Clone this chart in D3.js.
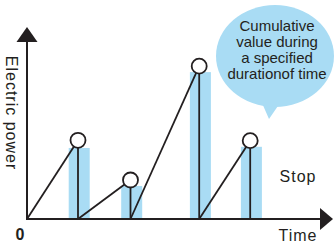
<!DOCTYPE html>
<html>
<head>
<meta charset="utf-8">
<script src="https://cdn.jsdelivr.net/npm/d3@7"></script>
<style>
  html, body { margin: 0; padding: 0; background: #fff; }
  svg { display: block; }
</style>
</head>
<body>
<div id="chart"></div>
<script>
// peaks of the cumulative value, one per measuring period
var peakTimes = [17, 34.5, 57.4, 74.4];
var peakValues = [41, 20.3, 79.6, 40.8];
// held value shown as the blue band behind each drop line
var barValues = [37, 17.2, 76.5, 37.6];
var bubbleLines = ["Cumulative", "value during", "a specified", "durationof time"];

const width = 334, height = 246;
const ink = "#231f20", blue = "#a9dcf4";
const font = "'Liberation Sans', Arial, Helvetica, sans-serif";

var svg = d3.select("#chart")
    .append("svg")
    .attr("width", width)
    .attr("height", height);

// set the ranges
var x = d3.scaleLinear().domain([0, 100]).range([27, 327]);
var y = d3.scaleLinear().domain([0, 100]).range([219, 27]);
var barW = 7;

// blue bands
svg.selectAll("rect.band")
    .data(barValues)
    .enter().append("rect")
    .attr("class", "band")
    .attr("x", (d, i) => x(peakTimes[i] - barW / 2 + 0.4))
    .attr("y", d => y(d))
    .attr("width", x(barW) - x(0))
    .attr("height", d => y(0) - y(d))
    .style("fill", blue);

// rising lines, each starting where the previous one was reset
var starts = [0].concat(peakTimes.slice(0, -1));
svg.selectAll("line.rise")
    .data(peakTimes)
    .enter().append("line")
    .attr("x1", (d, i) => x(starts[i]))
    .attr("y1", y(0))
    .attr("x2", d => x(d))
    .attr("y2", (d, i) => y(peakValues[i]))
    .style("stroke", ink)
    .style("stroke-width", 1.8);

// drop lines
svg.selectAll("line.drop")
    .data(peakTimes)
    .enter().append("line")
    .attr("x1", d => x(d))
    .attr("y1", y(0))
    .attr("x2", d => x(d))
    .attr("y2", (d, i) => y(peakValues[i]))
    .style("stroke", ink)
    .style("stroke-width", 1.8);

// axes
svg.append("line")
    .attr("x1", x(0)).attr("y1", y(0))
    .attr("x2", x(0)).attr("y2", 40)
    .style("stroke", ink).style("stroke-width", 2);
svg.append("line")
    .attr("x1", x(0) - 1).attr("y1", y(0))
    .attr("x2", 322).attr("y2", y(0))
    .style("stroke", ink).style("stroke-width", 2);
svg.append("path")
    .attr("d", "M" + x(0) + ",27L" + (x(0) - 10.5) + ",42L" + (x(0) + 10.5) + ",42Z")
    .style("fill", ink);
svg.append("path")
    .attr("d", "M333," + y(0) + "L320," + (y(0) - 11) + "L320," + (y(0) + 11) + "Z")
    .style("fill", ink);

// peak markers
svg.selectAll("circle.peak")
    .data(peakTimes)
    .enter().append("circle")
    .attr("cx", d => x(d))
    .attr("cy", (d, i) => y(peakValues[i]))
    .attr("r", 7.5)
    .style("fill", "#fff")
    .style("stroke", ink)
    .style("stroke-width", 1.8);

// speech bubble
svg.append("path")
    .attr("d", "M262,103L269,119L280,103Z")
    .style("fill", blue);
svg.append("ellipse")
    .attr("cx", 275).attr("cy", 56)
    .attr("rx", 59).attr("ry", 51)
    .style("fill", blue);
svg.append("text")
    .attr("x", 277)
    .attr("y", 31)
    .style("text-anchor", "middle")
    .style("font-family", font)
    .style("font-size", "15px")
    .style("fill", ink)
    .selectAll("tspan")
    .data(bubbleLines)
    .enter().append("tspan")
    .attr("x", 277)
    .attr("dy", (d, i) => i ? 16 : 0)
    .text(d => d);

// labels
svg.append("text")
    .attr("transform", "translate(5.5,113) rotate(90)")
    .style("text-anchor", "middle")
    .style("font-family", font)
    .style("font-size", "16px")
    .style("letter-spacing", "1px")
    .style("fill", ink)
    .text("Electric power");

svg.append("text")
    .attr("x", 298).attr("y", 241)
    .style("text-anchor", "middle")
    .style("font-family", font)
    .style("font-size", "16px")
    .style("letter-spacing", "1px")
    .style("fill", ink)
    .text("Time");

svg.append("text")
    .attr("x", 298).attr("y", 182)
    .style("text-anchor", "middle")
    .style("font-family", font)
    .style("font-size", "16px")
    .style("letter-spacing", "1px")
    .style("fill", ink)
    .text("Stop");

svg.append("text")
    .attr("x", 20).attr("y", 240)
    .style("text-anchor", "middle")
    .style("font-family", font)
    .style("font-size", "16px")
    .style("font-weight", "bold")
    .style("fill", ink)
    .text("0");
</script>
</body>
</html>
